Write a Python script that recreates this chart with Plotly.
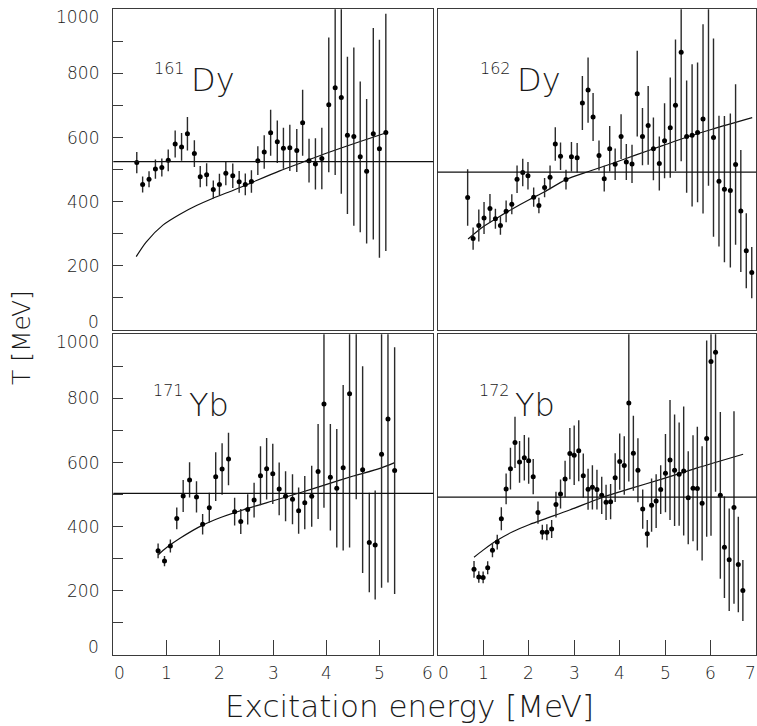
import plotly.graph_objects as go

# ---------------- data ----------------
# 161Dy
e_161 = [0.44, 0.55, 0.67, 0.79, 0.91, 1.03, 1.16, 1.28, 1.39, 1.52, 1.63, 1.75, 1.875, 1.99,
         2.11, 2.24, 2.36, 2.475, 2.59, 2.71, 2.83, 2.95, 3.075, 3.19, 3.31, 3.44, 3.55, 3.67,
         3.79, 3.91, 4.04, 4.16, 4.275, 4.39, 4.51, 4.63, 4.75, 4.875, 4.99, 5.11]
t_161 = [522, 454, 470, 502, 507, 529, 580, 571, 612, 550, 478, 484, 438, 454,
         489, 481, 462, 454, 463, 528, 555, 615, 587, 567, 568, 560, 646, 528,
         518, 535, 702, 755, 725, 607, 603, 540, 495, 612, 565, 616]
err_161 = [33, 25, 25, 30, 28, 34, 42, 43, 52, 42, 33, 36, 28, 33,
           38, 38, 34, 34, 35, 45, 52, 72, 66, 64, 72, 67, 103, 68,
           80, 96, 210, 272, 300, 245, 278, 235, 225, 330, 340, 370]
fit_e_161 = [0.43, 0.62, 0.93, 1.25, 1.56, 1.87, 2.18, 2.50, 3.12, 3.56, 3.94, 4.56, 5.12]
fit_t_161 = [229, 275, 327, 361, 388, 411, 431, 453, 496, 524, 548, 584, 615]
tconst_161 = 525

# 162Dy
e_162 = [0.66, 0.78, 0.905, 1.02, 1.15, 1.27, 1.38, 1.505, 1.63, 1.745, 1.87, 1.985, 2.11,
         2.225, 2.35, 2.47, 2.585, 2.70, 2.82, 2.94, 3.065, 3.18, 3.305, 3.415, 3.545, 3.66,
         3.78, 3.90, 4.03, 4.145, 4.27, 4.385, 4.50, 4.625, 4.74, 4.87, 4.985, 5.11, 5.225,
         5.35, 5.47, 5.59, 5.71, 5.83, 5.95, 6.06, 6.18, 6.30, 6.43, 6.545, 6.66, 6.78, 6.90]
t_162 = [413, 285, 326, 349, 379, 347, 326, 370, 392, 470, 491, 481, 414,
         388, 444, 476, 580, 542, 469, 540, 537, 708, 748, 664, 544, 472,
         565, 517, 603, 524, 518, 737, 603, 638, 565, 519, 590, 631, 701,
         866, 603, 607, 616, 658, 1060, 600, 464, 439, 435, 516, 371, 247, 179]
err_162 = [88, 35, 50, 50, 45, 31, 29, 34, 31, 43, 43, 43, 30,
           24, 30, 37, 52, 43, 31, 46, 46, 84, 102, 75, 47, 40,
           71, 49, 70, 56, 60, 134, 89, 123, 98, 84, 117, 156, 205,
           340, 175, 222, 218, 295, 610, 309, 204, 228, 240, 250, 190, 117, 80]
fit_e_162 = [0.67, 1.0, 1.29, 1.66, 2.02, 2.35, 2.82, 3.33, 3.85, 4.36, 4.94, 5.46, 6.03, 6.91]
fit_t_162 = [284, 322, 348, 379, 407, 431, 469, 495, 520, 546, 575, 601, 626, 662]
tconst_162 = 492

# 171Yb
e_171 = [0.84, 0.96, 1.07, 1.19, 1.31, 1.43, 1.56, 1.675, 1.80, 1.92, 2.04, 2.16, 2.275,
         2.39, 2.52, 2.64, 2.76, 2.875, 2.99, 3.11, 3.23, 3.36, 3.475, 3.59, 3.72, 3.84,
         3.95, 4.07, 4.19, 4.31, 4.43, 4.555, 4.675, 4.80, 4.91, 5.03, 5.15, 5.275]
t_171 = [325, 293, 340, 426, 496, 546, 493, 408, 459, 556, 580, 611, 447,
         416, 454, 483, 559, 581, 565, 518, 495, 486, 450, 475, 495, 572,
         783, 554, 520, 584, 815, 1060, 578, 351, 343, 626, 736, 575]
err_171 = [23, 16, 20, 34, 50, 55, 49, 32, 47, 76, 80, 82, 43,
           39, 47, 54, 92, 96, 94, 82, 78, 78, 72, 83, 95, 148,
           324, 166, 185, 258, 480, 574, 322, 155, 170, 416, 510, 385]
fit_e_171 = [0.84, 1.0, 1.25, 1.675, 2.0, 2.52, 3.0, 3.5, 4.0, 4.5, 5.0, 5.275]
fit_t_171 = [312, 335, 364, 405, 428, 457, 481, 506, 532, 558, 582, 600]
tconst_171 = 504

# 172Yb
e_172 = [0.80, 0.905, 1.0, 1.10, 1.205, 1.31, 1.40, 1.505, 1.60, 1.70, 1.80, 1.905, 2.0,
         2.10, 2.205, 2.30, 2.40, 2.505, 2.60, 2.70, 2.80, 2.905, 3.0, 3.10, 3.20, 3.305,
         3.40, 3.50, 3.605, 3.70, 3.80, 3.90, 4.0, 4.10, 4.20, 4.30, 4.40, 4.505, 4.605,
         4.70, 4.80, 4.90, 5.005, 5.105, 5.205, 5.305, 5.405, 5.505, 5.61, 5.705, 5.81,
         5.91, 6.005, 6.105, 6.21, 6.30, 6.405, 6.51, 6.605, 6.705]
t_172 = [267, 243, 242, 272, 327, 352, 425, 518, 581, 663, 602, 615, 606,
         556, 444, 383, 383, 393, 469, 502, 549, 628, 623, 637, 559, 517,
         523, 516, 498, 476, 478, 553, 603, 591, 786, 629, 576, 455, 378,
         467, 480, 516, 567, 608, 576, 564, 574, 490, 520, 519, 473,
         675, 915, 944, 498, 336, 297, 460, 282, 201]
err_172 = [26, 18, 18, 20, 22, 23, 36, 48, 65, 80, 65, 71, 72,
           55, 35, 23, 25, 28, 40, 45, 57, 80, 93, 95, 69, 64,
           69, 62, 58, 55, 55, 76, 88, 91, 245, 117, 100, 61, 43,
           83, 84, 76, 122, 187, 174, 161, 201, 145, 165, 193, 178,
           306, 543, 435, 260, 158, 160, 300, 149, 95]
fit_e_172 = [0.80, 1.0, 1.29, 1.66, 2.02, 2.39, 2.90, 3.63, 4.21, 4.94, 5.67, 6.71]
fit_t_172 = [305, 327, 356, 385, 407, 426, 452, 492, 518, 549, 582, 626]
tconst_172 = 492

labels = [("161", "Dy"), ("162", "Dy"), ("171", "Yb"), ("172", "Yb")]
y_tick_vals = [0, 200, 400, 600, 800, 1000]
x_ticks_left = [0, 1, 2, 3, 4, 5, 6]
x_ticks_right = [0, 1, 2, 3, 4, 5, 6, 7]
x_title = "Excitation energy [MeV]"
y_title = "T [MeV]"

# ---------------- figure ----------------
W, H = 757, 726
FONT = "DejaVu Sans ExtraLight, DejaVu Sans Light, Inter, sans-serif"
INK = "#1a1a1a"
FRAME = "#3a3a3a"

fig = go.Figure()

panels = [
    (e_161, t_161, err_161, fit_e_161, fit_t_161, tconst_161),
    (e_162, t_162, err_162, fit_e_162, fit_t_162, tconst_162),
    (e_171, t_171, err_171, fit_e_171, fit_t_171, tconst_171),
    (e_172, t_172, err_172, fit_e_172, fit_t_172, tconst_172),
]
axnames = [("x", "y"), ("x2", "y2"), ("x3", "y3"), ("x4", "y4")]

for (e, t, er, fe, ft, tc), (xa, ya) in zip(panels, axnames):
    fig.add_trace(go.Scatter(
        x=fe, y=ft, mode="lines", xaxis=xa, yaxis=ya,
        line=dict(color="#111111", width=1.2, shape="spline", smoothing=0.8),
        hoverinfo="skip", showlegend=False))
    fig.add_trace(go.Scatter(
        x=e, y=t, mode="markers", xaxis=xa, yaxis=ya,
        marker=dict(color="black", size=5),
        error_y=dict(type="data", array=er, visible=True, width=0,
                     thickness=1.4, color="#2a2a2a"),
        showlegend=False))
    fig.add_shape(type="line", xref=f"{xa} domain", yref=ya,
                  x0=0, x1=1, y0=tc, y1=tc,
                  line=dict(color="#111111", width=1.2))

# domains (paper fractions)
xl = [113.3 / W, 433.3 / W]
xr = [437.6 / W, 756.3 / W]
yt = [1 - 330.0 / H, 1 - 9.3 / H]
yb = [1 - 655.0 / H, 1 - 334.3 / H]

def xaxis(domain, rng, anchor, tickv):
    return dict(domain=domain, range=rng, anchor=anchor, showgrid=False,
                zeroline=False, showline=True, mirror=True, linecolor=FRAME,
                linewidth=1.2, ticks="inside" if tickv else "", tickvals=tickv,
                ticklen=15, tickcolor=FRAME, tickwidth=1.2,
                showticklabels=False, fixedrange=True)

def yaxis(domain, anchor, tickv):
    return dict(domain=domain, range=[0, 1000], anchor=anchor, showgrid=False,
                zeroline=False, showline=True, mirror=True, linecolor=FRAME,
                linewidth=1.2, ticks="inside" if tickv else "", tickvals=tickv,
                ticklen=10, tickcolor=FRAME, tickwidth=1.2,
                showticklabels=False, fixedrange=True)

minor_y = list(range(100, 1000, 100))
fig.update_layout(
    xaxis=xaxis(xl, [0, 6], "y", []),
    xaxis2=xaxis(xr, [0, 7], "y2", []),
    xaxis3=xaxis(xl, [0, 6], "y3", x_ticks_left[1:-1]),
    xaxis4=xaxis(xr, [0, 7], "y4", x_ticks_right[1:-1]),
    yaxis=yaxis(yt, "x", minor_y),
    yaxis2=yaxis(yt, "x2", []),
    yaxis3=yaxis(yb, "x3", minor_y),
    yaxis4=yaxis(yb, "x4", []),
)

ann = []
tick_font = dict(family=FONT, size=17, color=INK)
# y tick labels
for ya in ["y", "y3"]:
    for v in y_tick_vals:
        shift = 8 if v == y_tick_vals[0] else (-8 if v == y_tick_vals[-1] else 0)
        ann.append(dict(text=str(v), xref="paper", yref=ya, x=101 / W, y=v,
                        xanchor="right", yanchor="middle", yshift=shift,
                        showarrow=False, font=tick_font))
# x tick labels
for xa, ticks in [("x3", x_ticks_left), ("x4", x_ticks_right)]:
    for v in ticks:
        shift = 6 if v == ticks[0] else (-6 if v == ticks[-1] else 0)
        ann.append(dict(text=str(v), xref=xa, yref="paper", x=v, y=1 - 673 / H,
                        xanchor="center", yanchor="middle", xshift=shift,
                        showarrow=False, font=tick_font))
# axis titles
ann.append(dict(text=x_title, xref="paper", yref="paper", x=410 / W, y=1 - 706 / H,
                xanchor="center", yanchor="middle", showarrow=False,
                font=dict(family=FONT, size=31, color=INK)))
ann.append(dict(text=y_title, xref="paper", yref="paper", x=22 / W, y=1 - 338 / H,
                xanchor="center", yanchor="middle", showarrow=False, textangle=-90,
                font=dict(family=FONT, size=25, color=INK)))
# isotope labels
iso_pos = [(187, 68, 189, 80), (513, 68, 515, 80), (186, 391, 187, 405), (512, 391, 513, 405)]
for (mass, elem), (mx, my, ex, ey) in zip(labels, iso_pos):
    ann.append(dict(text=mass, xref="paper", yref="paper", x=mx / W, y=1 - my / H,
                    xanchor="right", yanchor="middle", showarrow=False,
                    font=dict(family=FONT, size=16, color=INK)))
    ann.append(dict(text=elem, xref="paper", yref="paper", x=ex / W, y=1 - ey / H,
                    xanchor="left", yanchor="middle", showarrow=False,
                    font=dict(family=FONT, size=32, color=INK)))

fig.update_layout(
    annotations=ann,
    width=W, height=H, autosize=False,
    margin=dict(l=0, r=0, t=0, b=0),
    paper_bgcolor="white", plot_bgcolor="white",
    font=dict(family=FONT, color=INK),
    showlegend=False,
)

fig.write_html(
    "out.html",
    config={"displayModeBar": False},
    post_script="document.body.style.margin='0';document.body.style.padding='0';"
                "document.body.style.overflow='hidden';",
)
